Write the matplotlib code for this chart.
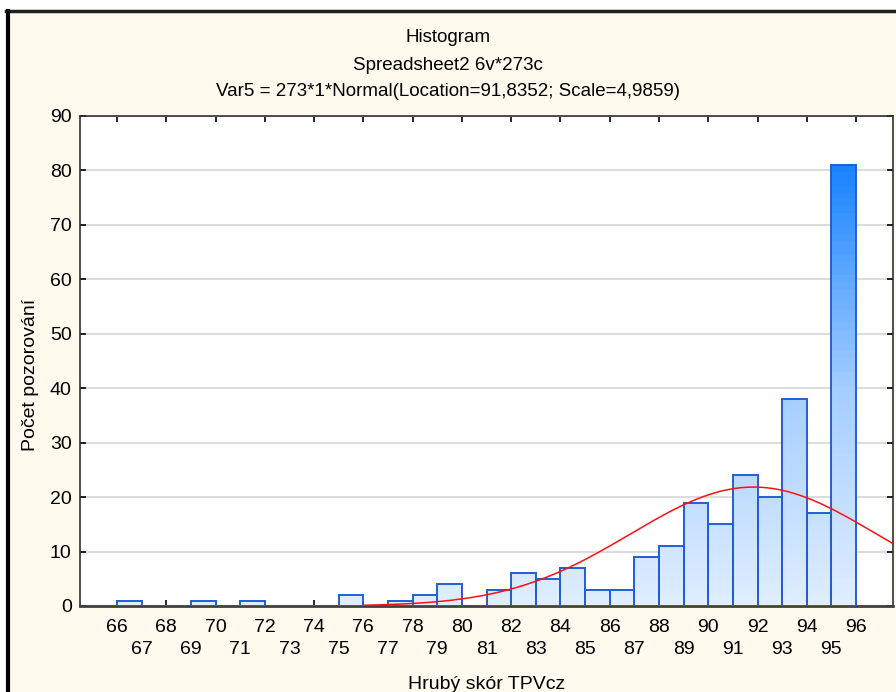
import numpy as np
import matplotlib.pyplot as plt
from matplotlib.colors import LinearSegmentedColormap
from matplotlib.lines import Line2D
from matplotlib.patches import Rectangle

# Hranice košů (levá hrana) a počty pozorování
bin_left = [66, 67, 68, 69, 70, 71, 72, 73, 74, 75, 76, 77, 78, 79, 80,
            81, 82, 83, 84, 85, 86, 87, 88, 89, 90, 91, 92, 93, 94, 95]
counts = [1, 0, 0, 1, 0, 1, 0, 0, 0, 2, 0, 1, 2, 4, 0,
          3, 6, 5, 7, 3, 3, 9, 11, 19, 15, 24, 20, 38, 17, 81]

# Parametry proložené normální křivky (z titulku)
N_OBS = 273
LOCATION = 91.8352
SCALE = 4.9859
CURVE_START = 76

x_ticks_even = list(range(66, 97, 2))
x_ticks_odd = list(range(67, 96, 2))
y_ticks = list(range(0, 91, 10))

plt.rcParams["font.family"] = ["Liberation Sans", "DejaVu Sans"]

BG = "#FFF9EE"
FS = 14
fig = plt.figure(figsize=(8.96, 6.92), dpi=100, facecolor=BG)

# Bílé okraje a černý rámeček nahoře a vlevo
fig.patches.append(Rectangle((0, 1 - 10 / 692), 1, 10 / 692,
                             transform=fig.transFigure, facecolor="white",
                             edgecolor="none"))
fig.patches.append(Rectangle((0, 0), 6 / 896, 1,
                             transform=fig.transFigure, facecolor="white",
                             edgecolor="none"))
fig.lines.append(Line2D([6 / 896, 1], [1 - 11 / 692] * 2,
                        transform=fig.transFigure, color="#202020", lw=2.5))
fig.lines.append(Line2D([7.5 / 896] * 2, [0, 1 - 11 / 692],
                        transform=fig.transFigure, color="black", lw=3))

ax = fig.add_axes([80 / 896, 1 - 606 / 692, 813 / 896, 490 / 692])
ax.set_facecolor("white")

# Vodorovná mřížka
ax.set_axisbelow(True)
ax.yaxis.grid(True, color="#DCDCDC", lw=1.5)

# Sloupce s přechodem barvy podle výšky
cmap = LinearSegmentedColormap.from_list("modra", ["#E0EEFF", "#A3CDFF", "#1A84FF"])
top_val = max(counts)
for left, c in zip(bin_left, counts):
    if c == 0:
        continue
    grad = np.linspace(0, c, 64).reshape(-1, 1)
    ax.imshow(grad, extent=(left, left + 1, 0, c), origin="lower",
              aspect="auto", cmap=cmap, vmin=0, vmax=top_val, zorder=2)
    ax.add_patch(Rectangle((left, 0), 1, c, facecolor="none",
                           edgecolor="#1F5FD6", lw=1.4, zorder=3))
ax.set_xlim(64.5, 97.5)
ax.set_ylim(0, 90)

# Normální křivka
xs = np.linspace(CURVE_START, 97.5, 300)
ys = N_OBS * 1 / (SCALE * np.sqrt(2 * np.pi)) * np.exp(-0.5 * ((xs - LOCATION) / SCALE) ** 2)
ax.plot(xs, ys, color="#FF1010", lw=1.1, zorder=4)

# Osy a popisky
ax.set_yticks(y_ticks)
ax.tick_params(axis="y", direction="in", length=4, width=1.2, labelsize=FS,
               right=True, pad=6)
ax.set_xticks(x_ticks_even)
ax.set_xticklabels([str(v) for v in x_ticks_even])
ax.set_xticks(x_ticks_odd, minor=True)
ax.set_xticklabels([str(v) for v in x_ticks_odd], minor=True)
ax.tick_params(axis="x", which="major", direction="in", length=4, width=1.2,
               labelsize=FS, top=True, pad=9)
ax.tick_params(axis="x", which="minor", length=0, labelsize=FS, pad=25)

for side in ["left", "right", "top"]:
    ax.spines[side].set_color("#303030")
    ax.spines[side].set_linewidth(1.2)
ax.spines["bottom"].set_color("#404040")
ax.spines["bottom"].set_linewidth(2)

ax.set_ylabel("Počet pozorování", fontsize=FS)
ax.yaxis.set_label_coords(-0.05, 0.471)
ax.set_xlabel("Hrubý skór TPVcz", fontsize=FS)
ax.xaxis.set_label_coords(0.5, -0.143)

fig.text(0.5, 1 - 38 / 692, "Histogram", ha="center", va="center", fontsize=13.5)
fig.text(0.5, 1 - 65 / 692, "Spreadsheet2 6v*273c", ha="center", va="center", fontsize=13.5)
fig.text(0.5, 1 - 92 / 692, "Var5 = 273*1*Normal(Location=91,8352; Scale=4,9859)",
         ha="center", va="center", fontsize=13.5)

fig.savefig("out.png", dpi=100, facecolor=fig.get_facecolor())
